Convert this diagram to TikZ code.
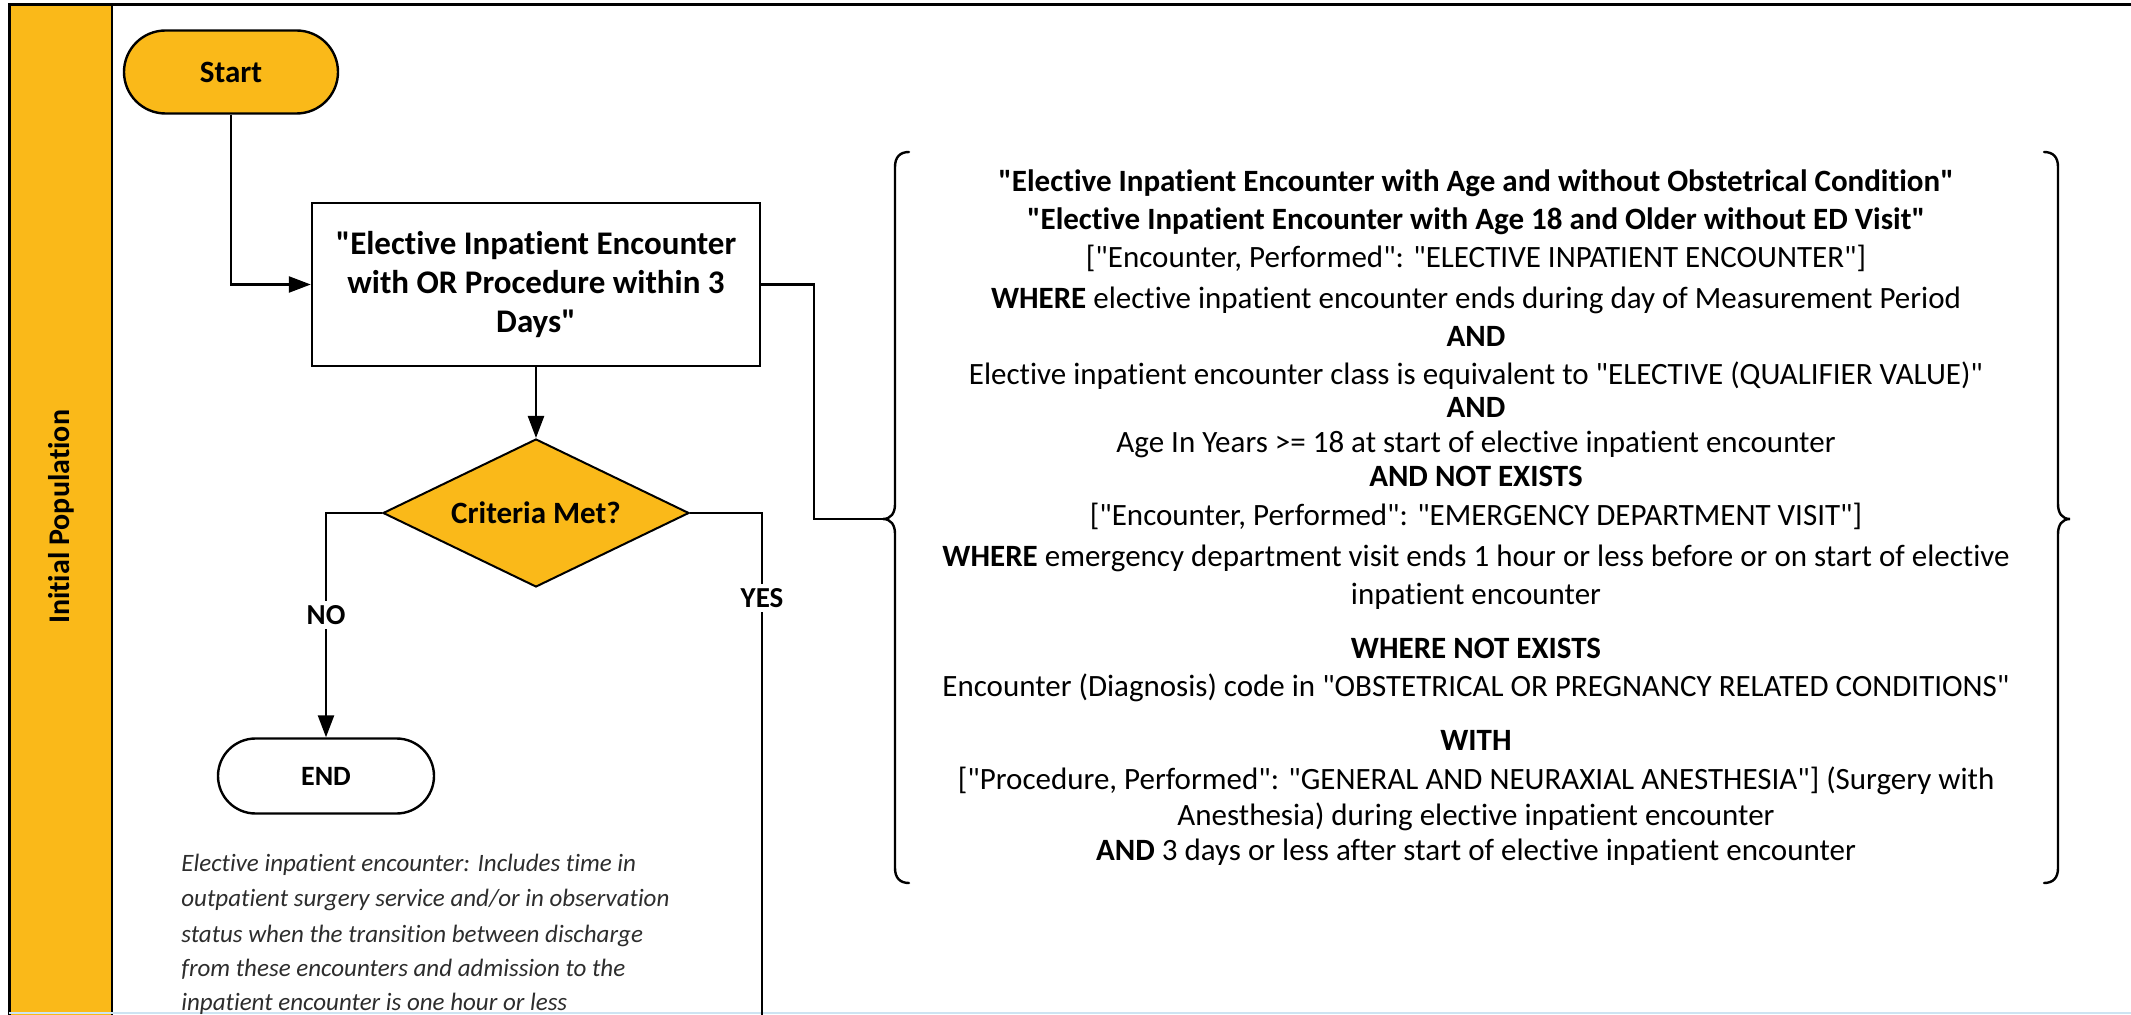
\documentclass[tikz,border=0pt]{standalone}
\usepackage{fontspec}
\setmainfont{Carlito}[Ligatures={TeXOff,NoCommon}]
\usetikzlibrary{shapes.geometric,shapes.misc,arrows.meta}
\definecolor{ipyellow}{RGB}{250,185,25}
\definecolor{notegray}{RGB}{45,45,45}
\definecolor{pageblue}{RGB}{205,228,242}
\begin{document}
\begin{tikzpicture}[x=0.5pt,y=-0.5pt,
  conn/.style={line width=1.2pt, draw=black},
  arr/.style={conn,-{Triangle[width=8pt,length=11pt]}},
  term/.style={rounded rectangle, draw, line width=1.2pt, inner sep=0pt, font=\bfseries\fontsize{15.5}{18}\selectfont},
  procbox/.style={rectangle, draw, line width=1.2pt, fill=white, align=center, minimum width=224pt, minimum height=81.5pt, inner sep=0pt, font=\bfseries\fontsize{16.5}{19.5}\selectfont},
  decision/.style={diamond, aspect=2.07, draw, line width=1pt, fill=ipyellow, minimum width=153pt, minimum height=74pt, inner sep=0pt, font=\bfseries\fontsize{15.5}{18}\selectfont},
  lbl/.style={fill=white, inner sep=2pt, font=\bfseries\fontsize{14.5}{17}\selectfont},
  rline/.style={anchor=base, inner sep=0pt, font=\fontsize{15.5}{18}\selectfont},
  noteline/.style={anchor=base west, inner sep=0pt, text=notegray, font=\itshape\fontsize{12.5}{17.5}\selectfont},
  bracestyle/.style={line width=1.2pt, line cap=round},
]
\useasboundingbox (0,0) rectangle (2131,1015);
\fill[white] (0,0) rectangle (2131,1015);
% swimlane
\fill[ipyellow] (9,5) rectangle (112,1015);
\draw[line width=1.5pt] (9,1015) -- (9,5) -- (2131,5);
\draw[line width=1.2pt] (112,5) -- (112,1015);
\draw[pageblue, line width=1pt] (9,1013) -- (2131,1013);
\node[rotate=90, font=\bfseries\fontsize{15}{18}\selectfont] (title) at (61,517) {Initial Population};

% flow nodes
\node[term, fill=ipyellow, minimum width=107pt, minimum height=41.5pt] (start) at (231,72) {Start};
\node[procbox] (enc) at (536,284.5) {"Elective Inpatient Encounter\\with OR Procedure within 3\\Days"};
\node[decision] (crit) at (536,513) {Criteria Met?};
\node[term, fill=white, minimum width=108pt, minimum height=37.5pt, font=\bfseries\fontsize{14}{17}\selectfont] (end) at (326,776) {END};

\coordinate (btip) at (883,519);
\coordinate (ybot) at (762,1015);

% connectors
\draw[arr] (start.south) |- (enc.west);
\draw[arr] (enc.south) -- (crit.north);
\draw[arr] (crit.west) -| (end.north);
\draw[conn] (crit.east) -| (ybot);
\draw[conn] (enc.east) -- ++(53,0) |- (btip);
\node[lbl] (no) at (326,615) {NO};
\node[lbl] (yes) at (762,598) {YES};

% braces
\draw[bracestyle] (909,152) .. controls (900,152) and (895,157) .. (895,167) -- (895,504)
  .. controls (895,513) and (891,519) .. (883,519)
  .. controls (891,519) and (895,525) .. (895,534) -- (895,868)
  .. controls (895,878) and (900,883) .. (909,883);
\draw[bracestyle] (2044,152) .. controls (2053,152) and (2058,157) .. (2058,167) -- (2058,504)
  .. controls (2058,513) and (2062,519) .. (2070,519)
  .. controls (2062,519) and (2058,525) .. (2058,534) -- (2058,868)
  .. controls (2058,878) and (2053,883) .. (2044,883);

% logic text
\node[rline] (l1) at (1476,192) {\textbf{"Elective Inpatient Encounter with Age and without Obstetrical Condition"}};
\node[rline] (l2) at (1476,230) {\textbf{"Elective Inpatient Encounter with Age 18 and Older without ED Visit"}};
\node[rline] (l3) at (1476,268) {["Encounter, Performed": "ELECTIVE INPATIENT ENCOUNTER"]};
\node[rline] (l4) at (1476,309) {\textbf{WHERE} elective inpatient encounter ends during day of Measurement Period};
\node[rline] (l5) at (1476,347) {\textbf{AND}};
\node[rline] (l6) at (1476,385) {Elective inpatient encounter class is equivalent to "ELECTIVE (QUALIFIER VALUE)"};
\node[rline] (l7) at (1476,418) {\textbf{AND}};
\node[rline] (l8) at (1476,453) {Age In Years >= 18 at start of elective inpatient encounter};
\node[rline] (l9) at (1476,487) {\textbf{AND NOT EXISTS}};
\node[rline] (l10) at (1476,526) {["Encounter, Performed": "EMERGENCY DEPARTMENT VISIT"]};
\node[rline] (l11) at (1476,567) {\textbf{WHERE} emergency department visit ends 1 hour or less before or on start of elective};
\node[rline] (l12) at (1476,604) {inpatient encounter};
\node[rline] (l13) at (1476,659) {\textbf{WHERE NOT EXISTS}};
\node[rline] (l14) at (1476,697) {Encounter (Diagnosis) code in "OBSTETRICAL OR PREGNANCY RELATED CONDITIONS"};
\node[rline] (l15) at (1476,750) {\textbf{WITH}};
\node[rline] (l16) at (1476,789) {["Procedure, Performed": "GENERAL AND NEURAXIAL ANESTHESIA"] (Surgery with};
\node[rline] (l17) at (1476,825) {Anesthesia) during elective inpatient encounter};
\node[rline] (l18) at (1476,860) {\textbf{AND} 3 days or less after start of elective inpatient encounter};

% note
\node[noteline] (n1) at (181,871) {Elective inpatient encounter: Includes time in};
\node[noteline] (n2) at (181,906) {outpatient surgery service and/or in observation};
\node[noteline] (n3) at (181,942) {status when the transition between discharge};
\node[noteline] (n4) at (181,976) {from these encounters and admission to the};
\node[noteline] (n5) at (181,1010) {inpatient encounter is one hour or less};
\end{tikzpicture}
\end{document}
